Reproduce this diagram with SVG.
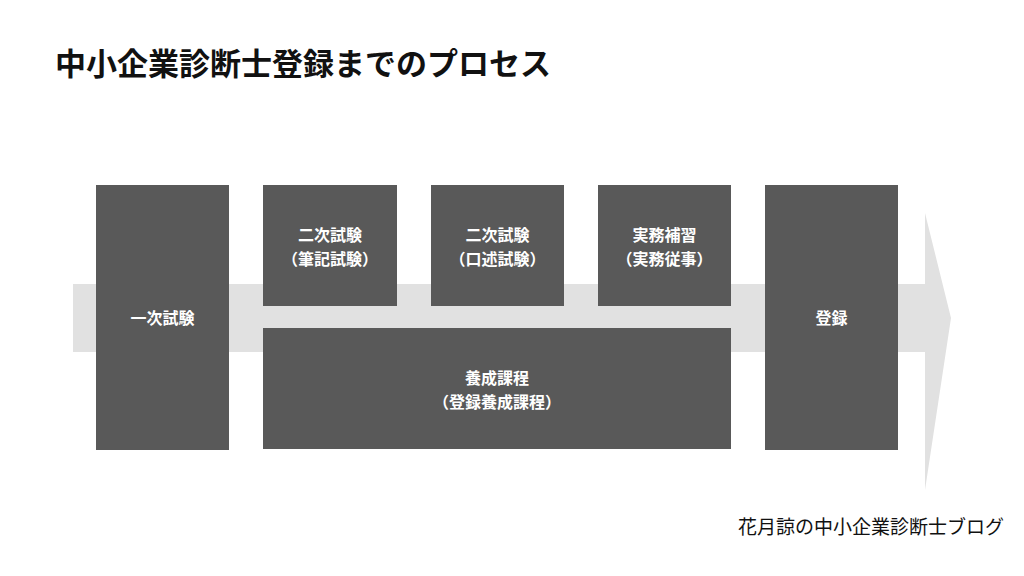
<svg xmlns="http://www.w3.org/2000/svg" width="1024" height="576" viewBox="0 0 1024 576">
<style>
.b{fill:#595959}
.t{font-family:"Noto Sans CJK JP","Noto Sans",sans-serif;font-size:16px;font-weight:bold;fill:#fff;text-anchor:middle}
</style>
<rect width="1024" height="576" fill="#fff"/>
<text x="55" y="75" font-family="Noto Sans CJK JP,sans-serif" font-size="31" font-weight="bold" fill="#111">中小企業診断士登録までのプロセス</text>
<g id="connectors">
<path d="M73 284H925V213L951 318L925 490V352H73Z" fill="#e1e1e1"/>
</g>
<g id="n1"><rect class="b" x="96" y="185" width="133" height="265"/><text class="t" x="162.5" y="324">一次試験</text></g>
<g id="n2"><rect class="b" x="263" y="185" width="134" height="121"/><text class="t" x="330" y="241">二次試験</text><text class="t" x="330" y="265">（筆記試験）</text></g>
<g id="n3"><rect class="b" x="431" y="185" width="133" height="121"/><text class="t" x="497.5" y="241">二次試験</text><text class="t" x="497.5" y="265">（口述試験）</text></g>
<g id="n4"><rect class="b" x="598" y="185" width="133" height="121"/><text class="t" x="664.5" y="241">実務補習</text><text class="t" x="664.5" y="265">（実務従事）</text></g>
<g id="n5"><rect class="b" x="765" y="185" width="133" height="265"/><text class="t" x="831.5" y="324">登録</text></g>
<g id="n6"><rect class="b" x="263" y="328" width="468" height="121"/><text class="t" x="497" y="384">養成課程</text><text class="t" x="497" y="408">（登録養成課程）</text></g>
<text x="738" y="534" font-family="Noto Sans CJK JP,sans-serif" font-size="19" fill="#111">花月諒の中小企業診断士ブログ</text>
</svg>
